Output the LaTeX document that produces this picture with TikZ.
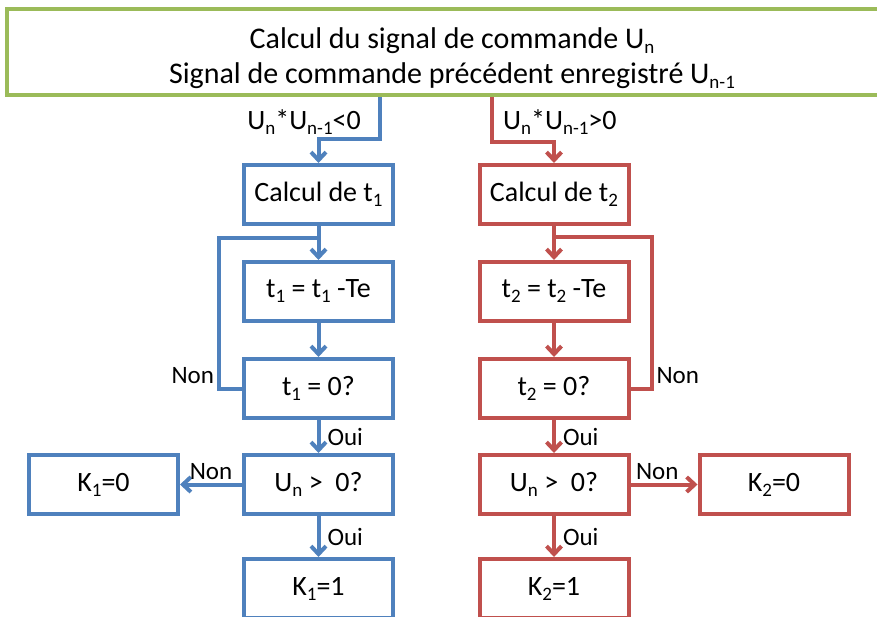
\documentclass[tikz,border=0pt]{standalone}
\usepackage{fontspec}
\setmainfont{Carlito}
\usetikzlibrary{arrows.meta,positioning}
\definecolor{cBlue}{HTML}{4F81BD}
\definecolor{cRed}{HTML}{C0504D}
\definecolor{cGreen}{HTML}{9BBB59}
\newcommand{\lowi}[1]{\raisebox{-5pt}{\fontsize{19}{19}\selectfont #1}}
\tikzset{
  box/.style ={draw,line width=4pt,fill=white,align=center,
               minimum width=149pt,minimum height=59pt,inner sep=4pt,
               font=\fontsize{28}{34}\selectfont},
  bbox/.style={box,draw=cBlue},
  rbox/.style={box,draw=cRed},
  gbox/.style={box,draw=cGreen,minimum width=890pt,minimum height=86pt,
               font=\fontsize{30}{35}\selectfont},
  ln/.style  ={line width=4pt},
  ar/.style  ={ln,-{Straight Barb[length=8pt,width=15pt]}},
  lbl/.style ={font=\fontsize{25}{28}\selectfont,text=black,inner sep=3pt},
  cnd/.style ={font=\fontsize{28}{34}\selectfont,inner sep=2pt},
}

\begin{document}
\begin{tikzpicture}[x=1pt,y=-1pt]
\useasboundingbox (0,0) rectangle (877,616);

% top: command signal
\node[gbox] (calc) at (452,52)
  {\rule{0pt}{33pt}Calcul du signal de commande U\lowi{n}\\
   Signal de commande précédent enregistré U\lowi{n-1}};

% left: negative product
\node[bbox] (calc1) at (318.5,194.5) {Calcul de t\lowi{1}};
\node[bbox,below=34pt of calc1] (dec1)  {t\lowi{1} = t\lowi{1} -Te};
\node[bbox,below=34pt of dec1]  (test1) {t\lowi{1} = 0?};
\node[bbox,below=33pt of test1] (sign1) {U\lowi{n} >\ \ 0?};
\node[bbox,below=41pt of sign1] (one1)  {K\lowi{1}=1};
\node[bbox,left=62pt of sign1]  (zero1) {K\lowi{1}=0};

% right: positive product
\node[rbox] (calc2) at (554,194.5) {Calcul de t\lowi{2}};
\node[rbox,below=34pt of calc2] (dec2)  {t\lowi{2} = t\lowi{2} -Te};
\node[rbox,below=34pt of dec2]  (test2) {t\lowi{2} = 0?};
\node[rbox,below=33pt of test2] (sign2) {U\lowi{n} >\ \ 0?};
\node[rbox,below=41pt of sign2] (one2)  {K\lowi{2}=1};
\node[rbox,right=67pt of sign2] (zero2) {K\lowi{2}=0};

% branches out of the top box
\coordinate (bOut) at ([xshift=-72pt]calc.south);
\coordinate (rOut) at ([xshift=40pt]calc.south);
\draw[ar,cBlue] (bOut) -- ++(0,42) -| (calc1.north);
\draw[ar,cRed]  (rOut) -- ++(0,45) -| (calc2.north);
\node[cnd,anchor=east] (cnd1) at (363,122) {U\lowi{n}*U\lowi{n-1}<0};
\node[cnd,anchor=west] (cnd2) at (501,122) {U\lowi{n}*U\lowi{n-1}>0};

% left chain
\coordinate[below=12pt of calc1] (bJoin);
\draw[ar,cBlue] (calc1) -- (dec1);
\draw[ar,cBlue] (dec1) -- (test1);
\draw[ln,cBlue] (test1.west) -- ++(-23,0) node[lbl,above left]{Non} |- (bJoin);
\draw[ar,cBlue] (test1) -- node[lbl,right=4pt]{Oui} (sign1);
\draw[ar,cBlue] (sign1) -- node[lbl,right=4pt]{Oui} (one1);
\draw[ar,cBlue] (sign1) -- node[lbl,above]{Non} (zero1);

% right chain
\coordinate[below=11pt of calc2] (rJoin);
\draw[ar,cRed] (calc2) -- (dec2);
\draw[ar,cRed] (dec2) -- (test2);
\draw[ln,cRed] (test2.east) -- ++(21,0) node[lbl,above right]{Non} |- (rJoin);
\draw[ar,cRed] (test2) -- node[lbl,right=4pt]{Oui} (sign2);
\draw[ar,cRed] (sign2) -- node[lbl,right=4pt]{Oui} (one2);
\draw[ar,cRed] (sign2) -- node[lbl,above,pos=0.4]{Non} (zero2);
\end{tikzpicture}
\end{document}
